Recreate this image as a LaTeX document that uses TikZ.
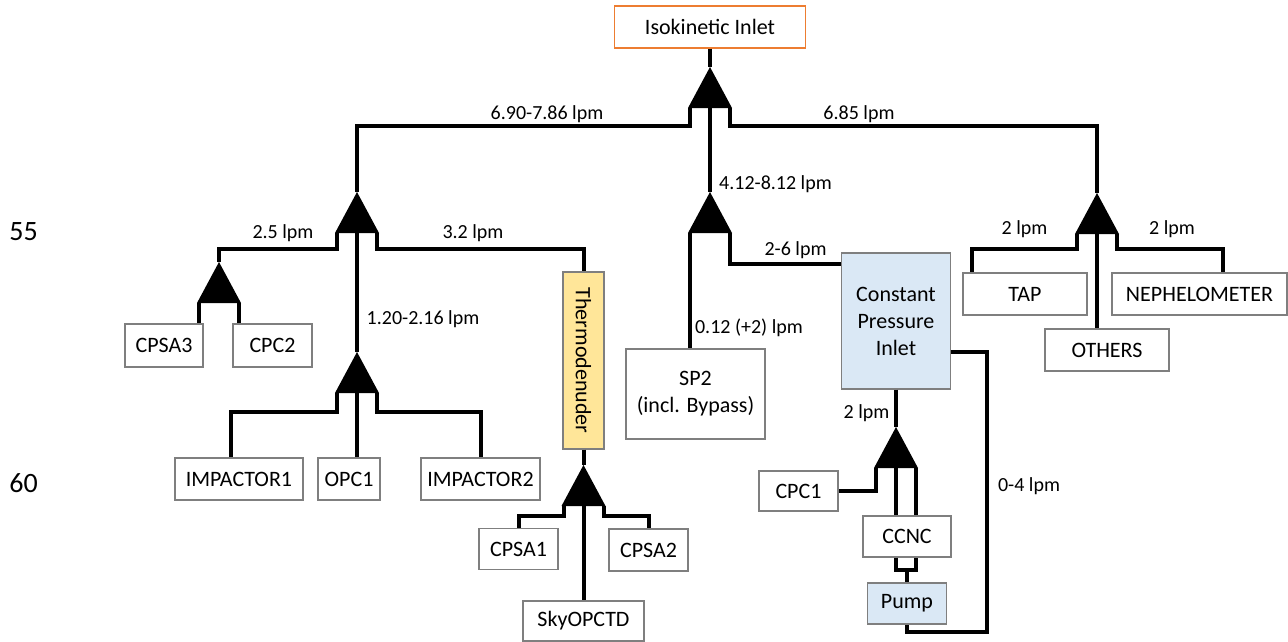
\documentclass[tikz,border=0pt]{standalone}
\usepackage{fontspec}
\setmainfont{Carlito}
\definecolor{edgegray}{HTML}{7F7F7F}
\definecolor{isoorange}{HTML}{ED7D31}
\definecolor{cpiblue}{HTML}{DAE8F5}
\definecolor{tdyellow}{HTML}{FFE699}

\tikzset{
  box/.style={draw=edgegray, line width=1.4pt, fill=white, inner sep=0pt,
    align=center, font=\fontsize{22}{27}\selectfont},
  sz/.style 2 args={minimum width=#1pt, minimum height=#2pt},
  pipe/.style={draw=black, line width=4pt, line join=miter},
  flow/.style={inner sep=0pt, anchor=base, font=\fontsize{20}{24}\selectfont},
  axis/.style={inner sep=0pt, anchor=base, font=\fontsize{28}{32}\selectfont},
  splitter/.pic={
    \fill[black] (0,0) -- (-22,41) -- (22,41) -- cycle;
    \coordinate (-apex) at (0,0);
    \coordinate (-l) at (-20,41);
    \coordinate (-m) at (0,41);
    \coordinate (-r) at (20,41);
  }
}

\begin{document}
\begin{tikzpicture}[x=1pt, y=-1pt]
\useasboundingbox (0,0) rectangle (1288,641);

% instruments and inlets
\node[box, draw=isoorange, sz={191}{42}] (iso) at (710,27) {Isokinetic Inlet};
\node[box, sz={78}{43}] (CPSA3) at (164,345.5) {CPSA3};
\node[box, sz={79}{43}] (CPC2) at (272.5,345.5) {CPC2};
\node[box, sz={128}{42}] (IMP1) at (239,479) {IMPACTOR1};
\node[box, sz={62}{42}] (OPC1) at (349,479) {OPC1};
\node[box, sz={119}{42}] (IMP2) at (480.5,479) {IMPACTOR2};
\node[box, fill=tdyellow, rotate=-90, sz={177}{41}] (thermo) at (583.5,360.5) {Thermodenuder};
\node[box, sz={79}{41}] (CPSA1) at (518.5,549) {CPSA1};
\node[box, sz={79}{42}] (CPSA2) at (648.5,550) {CPSA2};
\node[box, sz={121}{40}] (Sky) at (583.5,621) {SkyOPCTD};
\node[box, sz={139}{90}] (SP2) at (695.5,394) {SP2\\(incl. Bypass)};
\node[box, fill=cpiblue, sz={109}{136}] (CPI) at (896,321) {Constant\\Pressure\\Inlet};
\node[box, sz={79}{40}] (CPC1) at (798.5,491) {CPC1};
\node[box, sz={88}{41}] (CCNC) at (907,536.5) {CCNC};
\node[box, fill=cpiblue, sz={79}{41}] (Pump) at (907,603.5) {Pump};
\node[box, sz={124}{42}] (TAP) at (1025,294) {TAP};
\node[box, sz={175}{42}] (NEPH) at (1199.5,294) {NEPHELOMETER};
\node[box, sz={124}{42}] (OTHERS) at (1107,350) {OTHERS};

% flow splitters
\pic (T0) at (710,67) {splitter};
\pic (L1) at (357,192) {splitter};
\pic (L2) at (219,262) {splitter};
\pic (L3) at (357,352) {splitter};
\pic (TD) at (583.5,465) {splitter};
\pic (C) at (710,192) {splitter};
\pic (P) at (896,427) {splitter};
\pic (R) at (1097,193) {splitter};

\coordinate (jn) at (907,570);
\coordinate (ret) at (987,632);

% sample lines
\draw[pipe] (iso.south) -- (T0-apex);
\draw[pipe] (T0-l) -- ++(0,18) -| (L1-apex);
\draw[pipe] (T0-r) -- ++(0,18) -| (R-apex);
\draw[pipe] (T0-m) -- (C-apex);

\draw[pipe] (L1-l) -- ++(0,16) -| (L2-apex);
\draw[pipe] (L1-r) -- ++(0,16) -| (thermo.west);
\draw[pipe] (L1-m) -- (L3-apex);
\draw[pipe] (L2-l) -- (L2-l |- CPSA3.north);
\draw[pipe] (L2-r) -- (L2-r |- CPC2.north);
\draw[pipe] (L3-l) -- ++(0,19) -| (IMP1.north -| 231,0);
\draw[pipe] (L3-r) -- ++(0,19) -| (IMP2.north);
\draw[pipe] (L3-m) -- (L3-m |- OPC1.north);

\draw[pipe] (thermo.east) -- (TD-apex);
\draw[pipe] (TD-l) -- ++(0,10) -| (CPSA1.north);
\draw[pipe] (TD-r) -- ++(0,10) -| (CPSA2.north);
\draw[pipe] (TD-m) -- (Sky.north);

\draw[pipe] (C-l) -- (C-l |- SP2.north);
\draw[pipe] (C-r) |- (CPI.west |- 0,264);
\draw[pipe] (CPI.south) -- (P-apex);
\draw[pipe] (P-l) |- (CPC1.east);
\draw[pipe] (P-m) -- (P-m |- CCNC.north);
\draw[pipe] (P-r) -- (P-r |- CCNC.north);
\draw[pipe] (CCNC.south -| P-m) -- (P-m |- jn) -- (P-r |- jn) -- (CCNC.south -| P-r);
\draw[pipe] (jn) -- (jn |- Pump.north);
\draw[pipe] (CPI.east |- 0,352) -| (ret) -| (Pump.south);

\draw[pipe] (R-l) -- ++(0,15) -| (TAP.north -| 972,0);
\draw[pipe] (R-r) -- ++(0,15) -| (NEPH.north -| 1223,0);
\draw[pipe] (R-m) -- (R-m |- OTHERS.north);

% flow rates
\node[flow] (f1) at (547,119.5) {6.90-7.86 lpm};
\node[flow] (f2) at (859,119.5) {6.85 lpm};
\node[flow] (f3) at (775.5,189.5) {4.12-8.12 lpm};
\node[flow] (f4) at (283,238.5) {2.5 lpm};
\node[flow] (f5) at (473,238.5) {3.2 lpm};
\node[flow] (f6) at (423,324.5) {1.20-2.16 lpm};
\node[flow] (f7) at (749,333.5) {0.12 (+2) lpm};
\node[flow] (f8) at (795.5,255.5) {2-6 lpm};
\node[flow] (f9) at (866.5,418.5) {2 lpm};
\node[flow] (f10) at (1029,491.5) {0-4 lpm};
\node[flow] (f11) at (1024.5,234.5) {2 lpm};
\node[flow] (f12) at (1172,234.5) {2 lpm};

% margin numbers
\node[axis] (n55) at (23.5,240) {55};
\node[axis] (n60) at (23.5,492) {60};
\end{tikzpicture}
\end{document}
